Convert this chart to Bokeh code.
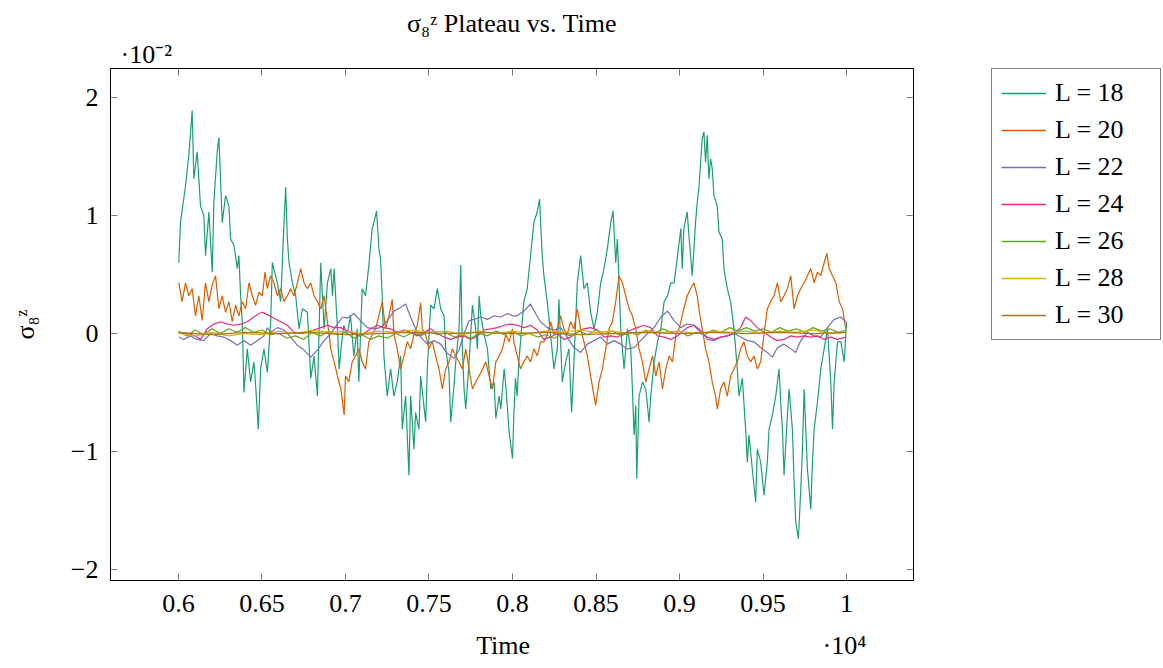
from bokeh.plotting import figure
from bokeh.layouts import row
from bokeh.models import (Range1d, FixedTicker, LinearAxis, Legend, LegendItem, Title)
from bokeh.embed import file_html
from bokeh.resources import INLINE

# ---------------- data (sigma values in units of 1e-2, time in steps) ----------------
time_L18 = [6002, 6012, 6042, 6062, 6082, 6092, 6112, 6132, 6152, 6162, 6182, 6202, 6212, 6232, 6242, 6262,
            6282, 6302, 6312, 6332, 6352, 6362, 6372, 6382, 6392, 6412, 6432, 6452, 6462, 6478, 6492, 6512,
            6532, 6552, 6562, 6592, 6612, 6632, 6642, 6652, 6662, 6682, 6702, 6722, 6742, 6772, 6792, 6812,
            6832, 6852, 6872, 6892, 6912, 6922, 6932, 6952, 6962, 6982, 6990, 7010, 7030, 7050, 7070, 7080,
            7100, 7120, 7140, 7160, 7170, 7186, 7200, 7210, 7220, 7230, 7250, 7270, 7290, 7310, 7330, 7340,
            7360, 7380, 7390, 7410, 7420, 7440, 7450, 7480, 7490, 7510, 7530, 7550, 7570, 7590, 7600, 7620,
            7630, 7650, 7660, 7680, 7690, 7700, 7710, 7720, 7740, 7760, 7780, 7790, 7800, 7810, 7830, 7850,
            7870, 7890, 7900, 7920, 7930, 7950, 7960, 7980, 8000, 8008, 8018, 8028, 8038, 8058, 8068, 8088,
            8108, 8128, 8148, 8162, 8178, 8188, 8208, 8228, 8248, 8268, 8278, 8298, 8318, 8338, 8354, 8368,
            8388, 8408, 8428, 8448, 8468, 8488, 8508, 8528, 8548, 8568, 8588, 8602, 8618, 8628, 8648, 8668,
            8688, 8708, 8718, 8728, 8738, 8744, 8758, 8778, 8798, 8818, 8828, 8848, 8868, 8888, 8908, 8928,
            8948, 8968, 8988, 9008, 9016, 9026, 9046, 9056, 9076, 9096, 9106, 9116, 9126, 9136, 9146, 9156,
            9166, 9176, 9186, 9196, 9206, 9226, 9236, 9256, 9266, 9286, 9306, 9326, 9346, 9356, 9376, 9396,
            9406, 9416, 9436, 9456, 9466, 9486, 9506, 9526, 9536, 9556, 9576, 9596, 9606, 9616, 9626, 9646,
            9656, 9676, 9686, 9696, 9712, 9726, 9736, 9746, 9766, 9786, 9796, 9806, 9826, 9846, 9866, 9886,
            9906, 9916, 9926, 9946, 9966, 9986, 10000]
sig_L18 = [0.60, 0.94, 1.25, 1.51, 1.89, 1.31, 1.54, 1.08, 1.00, 0.66, 1.03, 0.52, 1.11, 1.54, 1.66, 0.94,
           1.17, 1.08, 0.80, 0.75, 0.55, 0.66, 0.32, 0.10, -0.50, -0.13, -0.41, -0.24, -0.44, -0.81, -0.30, -0.13,
           -0.33, 0.10, 0.60, 0.43, 0.27, 0.94, 1.24, 0.80, 0.60, 0.43, 0.32, 0.04, 0.21, 0.18, -0.38, -0.19,
           -0.53, 0.60, 0.04, 0.43, 0.55, 0.32, 0.55, 0.04, -0.30, -0.01, 0.07, -0.01, 0.15, -0.19, 0.04, -0.41,
           0.38, 0.32, 0.58, 0.89, 0.94, 1.04, 0.72, 0.63, 0.32, -0.19, -0.53, -0.30, -0.53, -0.41, -0.19, -0.81,
           -0.53, -1.20, -0.53, -0.98, -0.67, -0.81, -0.36, -0.75, -0.30, 0.24, 0.21, 0.38, 0.21, 0.15, -0.13, -0.33,
           -0.75, -0.44, -0.24, 0.04, 0.58, -0.13, -0.47, -0.64, -0.24, 0.24, 0.04, -0.13, 0.32, 0.15, -0.01, -0.13,
           -0.47, -0.41, -0.72, -0.53, -0.64, -0.30, -0.44, -0.84, -1.06, -0.69, -0.38, -0.53, -0.24, 0.10, 0.27, 0.38,
           0.66, 0.94, 1.03, 1.14, 0.66, 0.49, 0.27, -0.01, -0.30, -0.13, 0.29, -0.41, -0.24, -0.13, -0.67, -0.24,
           0.43, 0.66, 0.38, 0.43, 0.18, 0.04, 0.18, 0.43, 0.55, 0.72, 0.94, 1.04, 0.60, 0.80, 0.04, -0.30,
           0.04, -0.13, -0.47, -0.86, -0.61, -1.23, -0.53, -0.41, -0.47, -0.75, -0.53, -0.24, -0.07, 0.04, 0.27, 0.32,
           0.43, 0.43, 0.66, 0.89, 0.55, 0.89, 1.03, 0.84, 0.49, 0.94, 1.11, 1.23, 1.45, 1.65, 1.71, 1.45,
           1.68, 1.31, 1.48, 1.40, 1.17, 1.08, 0.86, 0.80, 0.55, 0.38, 0.27, 0.04, -0.30, -0.53, -0.38, -0.81,
           -1.09, -0.86, -1.15, -1.43, -0.98, -1.09, -1.37, -1.09, -0.81, -0.69, -0.53, -0.30, -0.58, -0.81, -1.20, -0.69,
           -0.47, -0.81, -1.26, -1.60, -1.74, -1.32, -0.98, -0.47, -1.15, -1.49, -1.09, -0.81, -0.58, -0.30, -0.13, 0.04,
           -0.41, -0.81, -0.41, -0.07, -0.07, -0.24, 0.10]

time_L20 = [6002, 6022, 6042, 6062, 6082, 6102, 6122, 6142, 6162, 6182, 6202, 6222, 6242, 6262, 6282, 6302,
            6322, 6342, 6362, 6382, 6402, 6422, 6442, 6462, 6482, 6502, 6518, 6532, 6552, 6572, 6592, 6612,
            6632, 6652, 6672, 6692, 6712, 6732, 6752, 6772, 6792, 6812, 6832, 6852, 6872, 6892, 6912, 6932,
            6952, 6972, 6992, 7000, 7020, 7040, 7060, 7080, 7100, 7120, 7140, 7160, 7180, 7200, 7220, 7240,
            7260, 7280, 7290, 7310, 7330, 7350, 7370, 7390, 7410, 7430, 7450, 7460, 7480, 7500, 7520, 7540,
            7560, 7580, 7600, 7620, 7640, 7660, 7680, 7700, 7720, 7740, 7760, 7780, 7800, 7820, 7840, 7860,
            7880, 7900, 7920, 7940, 7960, 7980, 8000, 8008, 8028, 8048, 8068, 8088, 8108, 8128, 8148, 8168,
            8188, 8208, 8228, 8248, 8268, 8288, 8308, 8328, 8348, 8368, 8388, 8408, 8428, 8448, 8468, 8488,
            8498, 8518, 8538, 8558, 8578, 8598, 8618, 8638, 8658, 8678, 8698, 8718, 8738, 8758, 8778, 8798,
            8818, 8838, 8858, 8878, 8898, 8918, 8938, 8958, 8978, 8998, 9026, 9046, 9066, 9086, 9106, 9116,
            9136, 9156, 9176, 9196, 9216, 9226, 9246, 9266, 9286, 9306, 9326, 9346, 9366, 9386, 9406, 9426,
            9446, 9466, 9486, 9506, 9526, 9546, 9566, 9586, 9606, 9626, 9646, 9666, 9686, 9706, 9726, 9746,
            9766, 9786, 9806, 9826, 9846, 9866, 9882, 9896, 9916, 9936, 9956, 9976, 9996]
sig_L20 = [0.43, 0.27, 0.43, 0.32, 0.38, 0.15, 0.32, 0.11, 0.43, 0.27, 0.41, 0.49, 0.21, 0.32, 0.18, 0.27,
           0.10, 0.24, 0.15, 0.27, 0.21, 0.43, 0.32, 0.24, 0.35, 0.32, 0.52, 0.38, 0.49, 0.43, 0.32, 0.38,
           0.27, 0.32, 0.38, 0.32, 0.43, 0.55, 0.43, 0.38, 0.43, 0.32, 0.27, 0.21, 0.32, 0.10, -0.13, -0.24,
           -0.36, -0.47, -0.69, -0.36, -0.41, -0.24, -0.19, -0.13, -0.24, -0.30, -0.07, -0.01, 0.04, 0.15, 0.27, 0.04,
           0.15, 0.29, -0.01, -0.13, -0.30, -0.19, -0.07, -0.13, -0.01, 0.07, 0.26, 0.04, -0.01, -0.13, -0.07, -0.19,
           -0.30, -0.47, -0.30, -0.24, -0.13, -0.19, -0.24, -0.30, -0.13, -0.30, -0.47, -0.41, -0.36, -0.30, -0.24, -0.36,
           -0.47, -0.24, -0.19, -0.13, -0.01, -0.07, 0.04, -0.07, -0.19, -0.30, -0.24, -0.19, -0.24, -0.13, -0.19, -0.07,
           -0.07, -0.01, 0.10, -0.01, 0.04, 0.15, 0.04, -0.01, 0.10, 0.04, 0.21, 0.04, -0.07, -0.19, -0.36, -0.53,
           -0.61, -0.41, -0.30, -0.13, 0.04, 0.10, 0.27, 0.49, 0.43, 0.32, 0.21, 0.15, 0.04, -0.13, -0.24, -0.41,
           -0.30, -0.19, -0.36, -0.24, -0.47, -0.30, -0.19, -0.24, -0.01, 0.04, 0.21, 0.32, 0.38, 0.43, 0.32, 0.21,
           0.04, -0.13, -0.24, -0.41, -0.53, -0.64, -0.47, -0.41, -0.53, -0.36, -0.30, -0.24, -0.13, -0.07, -0.19, -0.24,
           -0.19, -0.30, -0.24, -0.01, 0.21, 0.27, 0.32, 0.43, 0.27, 0.32, 0.38, 0.49, 0.21, 0.32, 0.38, 0.43,
           0.49, 0.55, 0.43, 0.52, 0.49, 0.60, 0.68, 0.55, 0.49, 0.43, 0.27, 0.21, 0.04]

time_L22 = [6002, 6032, 6072, 6112, 6152, 6192, 6232, 6272, 6312, 6352, 6392, 6432, 6472, 6512, 6532, 6552,
            6592, 6632, 6672, 6712, 6752, 6792, 6832, 6872, 6912, 6952, 6982, 7010, 7050, 7090, 7130, 7170,
            7210, 7250, 7290, 7330, 7360, 7390, 7420, 7450, 7490, 7530, 7570, 7610, 7650, 7680, 7710, 7740,
            7770, 7810, 7850, 7890, 7930, 7970, 8000, 8028, 8068, 8108, 8138, 8168, 8208, 8248, 8288, 8328,
            8368, 8408, 8448, 8488, 8528, 8568, 8608, 8648, 8688, 8728, 8768, 8808, 8848, 8888, 8928, 8968,
            9008, 9046, 9086, 9126, 9166, 9206, 9246, 9286, 9326, 9366, 9406, 9446, 9486, 9526, 9556, 9586,
            9626, 9666, 9696, 9726, 9766, 9806, 9846, 9886, 9926, 9966, 9996]
sig_L22 = [-0.03, -0.05, -0.02, -0.05, -0.06, 0.00, -0.02, -0.03, -0.06, -0.10, -0.06, -0.10, -0.06, -0.02, 0.05, 0.01,
           0.05, 0.03, -0.03, -0.10, -0.14, -0.20, -0.14, -0.06, 0.00, 0.08, 0.14, 0.13, 0.17, 0.11, 0.05, 0.04,
           0.05, 0.11, 0.19, 0.22, 0.25, 0.14, 0.04, -0.03, -0.09, -0.06, -0.09, -0.17, -0.21, -0.14, 0.00, 0.11,
           0.12, 0.14, 0.12, 0.15, 0.14, 0.17, 0.15, 0.15, 0.19, 0.25, 0.17, 0.10, 0.05, 0.03, 0.05, -0.03,
           -0.12, -0.16, -0.09, -0.06, -0.03, -0.09, -0.06, -0.09, -0.13, -0.12, -0.06, 0.00, 0.05, 0.14, 0.19, 0.11,
           0.05, 0.08, 0.07, 0.03, -0.05, -0.06, -0.03, -0.02, 0.00, -0.03, -0.06, -0.07, -0.12, -0.16, -0.20, -0.12,
           -0.09, -0.13, -0.16, -0.06, 0.01, -0.02, -0.03, 0.05, 0.12, 0.14, 0.10]

time_L24 = [6002, 6052, 6102, 6132, 6172, 6212, 6252, 6292, 6332, 6372, 6412, 6452, 6482, 6502, 6532, 6572,
            6612, 6652, 6692, 6732, 6772, 6812, 6852, 6892, 6932, 6972, 7030, 7090, 7150, 7190, 7230, 7270,
            7310, 7350, 7390, 7430, 7470, 7510, 7550, 7590, 7630, 7670, 7710, 7750, 7790, 7830, 7870, 7910,
            7950, 7990, 8028, 8068, 8108, 8148, 8188, 8228, 8268, 8308, 8348, 8388, 8428, 8468, 8508, 8548,
            8588, 8628, 8668, 8708, 8748, 8788, 8828, 8868, 8908, 8948, 8988, 9046, 9086, 9126, 9166, 9206,
            9246, 9286, 9326, 9366, 9396, 9426, 9466, 9506, 9546, 9586, 9626, 9666, 9706, 9746, 9786, 9826,
            9866, 9906, 9946, 9996]
sig_L24 = [0.01, 0.00, -0.02, -0.05, 0.04, 0.08, 0.10, 0.08, 0.07, 0.08, 0.10, 0.14, 0.17, 0.18, 0.16, 0.13,
           0.10, 0.07, 0.01, 0.00, 0.01, 0.03, 0.05, 0.07, 0.05, 0.05, 0.01, -0.02, 0.04, 0.07, 0.05, 0.04,
           0.01, 0.03, 0.01, -0.02, 0.01, 0.04, 0.00, -0.03, -0.05, -0.03, -0.02, -0.05, -0.02, 0.03, 0.04, 0.05,
           0.07, 0.08, 0.07, 0.05, 0.07, 0.03, -0.05, -0.03, 0.00, -0.05, -0.03, 0.01, 0.04, 0.05, 0.03, -0.03,
           -0.02, -0.03, 0.00, 0.03, 0.05, 0.07, 0.05, -0.02, -0.03, -0.05, -0.02, 0.05, 0.07, 0.01, -0.03, -0.05,
           -0.03, -0.02, 0.00, 0.05, 0.14, 0.11, 0.05, 0.01, -0.03, -0.06, -0.05, -0.02, -0.03, -0.02, -0.03, -0.02,
           -0.05, -0.03, -0.05, -0.03]

time_L26 = [6000, 6050, 6100, 6150, 6200, 6250, 6300, 6350, 6400, 6450, 6500, 6550, 6600, 6650, 6700, 6750,
            6800, 6850, 6900, 6950, 7000, 7050, 7100, 7150, 7200, 7250, 7300, 7350, 7400, 7450, 7500, 7550,
            7600, 7650, 7700, 7750, 7800, 7850, 7900, 7950, 8000, 8050, 8100, 8150, 8200, 8250, 8300, 8350,
            8400, 8450, 8500, 8550, 8600, 8650, 8700, 8750, 8800, 8850, 8900, 8950, 9000, 9050, 9100, 9150,
            9200, 9250, 9300, 9350, 9400, 9450, 9500, 9550, 9600, 9650, 9700, 9750, 9800, 9850, 9900, 9950, 10000]
sig_L26 = [0.02, -0.02, 0.03, -0.01, 0.04, 0.00, 0.04, 0.01, 0.05, 0.01, 0.03, -0.01, 0.00, -0.04, -0.02, -0.05,
           0.01, -0.02, 0.02, -0.01, 0.01, -0.04, -0.01, -0.05, -0.02, -0.04, 0.00, -0.03, 0.01, -0.02, 0.02, -0.01,
           0.01, -0.03, -0.01, -0.04, 0.00, -0.02, 0.02, -0.01, 0.02, -0.02, 0.00, -0.03, -0.01, -0.04, 0.00, -0.02,
           0.02, -0.01, 0.03, 0.00, 0.02, -0.02, 0.01, -0.01, 0.03, 0.00, 0.04, 0.01, 0.02, -0.02, 0.01, -0.01,
           0.03, 0.01, 0.05, 0.02, 0.05, 0.02, 0.04, 0.01, 0.05, 0.02, 0.04, 0.01, 0.05, 0.02, 0.04, 0.01, 0.03]

time_L28 = [6000, 6100, 6200, 6300, 6400, 6500, 6600, 6700, 6800, 6900, 7000, 7100, 7200, 7300, 7400, 7500,
            7600, 7700, 7800, 7900, 8000, 8100, 8200, 8300, 8400, 8500, 8600, 8700, 8800, 8900, 9000, 9100,
            9200, 9300, 9400, 9500, 9600, 9700, 9800, 9900, 10000]
sig_L28 = [0.00, -0.02, 0.01, -0.02, 0.00, -0.01, 0.02, 0.00, 0.03, 0.01, 0.02, 0.00, 0.02, 0.01, 0.03, 0.01,
           0.02, -0.01, 0.02, 0.00, 0.02, 0.00, 0.02, 0.01, 0.03, 0.01, 0.02, 0.00, 0.02, 0.01, 0.02, 0.00,
           0.02, 0.01, 0.02, 0.00, 0.02, 0.01, 0.03, 0.00, 0.01]

time_L30 = [6000, 6200, 6400, 6600, 6800, 7000, 7200, 7400, 7600, 7800, 8000, 8200, 8400, 8600, 8800, 9000,
            9200, 9400, 9600, 9800, 10000]
sig_L30 = [0.01, -0.01, 0.01, 0.00, 0.01, -0.01, 0.00, 0.01, 0.00, 0.01, 0.00, 0.01, -0.01, 0.00, 0.01, 0.00,
           0.01, 0.00, 0.01, 0.00, 0.01]

series_labels = ["L = 18", "L = 20", "L = 22", "L = 24", "L = 26", "L = 28", "L = 30"]
series_colors = ["#1b9e77", "#d95f02", "#7570b3", "#e7298a", "#66a61e", "#e6ab02", "#a6761d"]

x_ticks = [6000, 6500, 7000, 7500, 8000, 8500, 9000, 9500, 10000]
x_tick_labels = ["0.6", "0.65", "0.7", "0.75", "0.8", "0.85", "0.9", "0.95", "1"]
y_ticks = [-2, -1, 0, 1, 2]
y_tick_labels = ["\u22122", "\u22121", "0", "1", "2"]

title_text = "\u03c3\u2088\u1dbb Plateau vs. Time"
y_label_text = "\u03c3\u2088\u1dbb"
x_label_text = "Time"
y_scale_text = "\u00b710\u207b\u00b2"
x_scale_text = "\u00b710\u2074"

# ---------------- main figure ----------------
FONT = "Liberation Serif"
FS = "26px"
NB = "\u00a0"

p = figure(frame_width=803, frame_height=512, output_backend="svg", toolbar_location=None,
           x_range=Range1d(5593, 10401), y_range=Range1d(-2.093, 2.246),
           min_border_left=110, min_border_right=77, min_border_top=68, min_border_bottom=84)
p.background_fill_color = "white"
p.border_fill_color = "white"
p.outline_line_color = "black"
p.outline_line_width = 1
p.xgrid.visible = False
p.ygrid.visible = False

p.title.text = title_text
p.title.align = "center"
p.title.text_font = FONT
p.title.text_font_size = FS
p.title.text_font_style = "normal"
p.title.text_color = "black"
p.title.standoff = 0

def style_axis(ax, ticks, labels, show_labels=True):
    ax.ticker = FixedTicker(ticks=ticks)
    ax.major_label_overrides = {t: (l if show_labels else "") for t, l in zip(ticks, labels)}
    ax.major_tick_in = 7
    ax.major_tick_out = 0
    ax.minor_tick_in = 0
    ax.minor_tick_out = 0
    ax.axis_line_color = "black"
    ax.major_tick_line_color = "#777777"
    ax.major_label_text_font = FONT
    ax.major_label_text_font_size = FS
    ax.major_label_text_color = "black"
    ax.axis_label_text_font = FONT
    ax.axis_label_text_font_size = FS
    ax.axis_label_text_font_style = "normal"
    ax.axis_label_text_color = "black"

xa = p.xaxis[0]
style_axis(xa, x_ticks, x_tick_labels)
# axis title "Time" centred, with the x scale factor at the right end of the same line
xa.axis_label = NB * 49 + x_label_text + NB * 45 + x_scale_text
xa.major_label_standoff = 14
xa.axis_label_standoff = 16

ya = p.yaxis[0]
style_axis(ya, y_ticks, y_tick_labels)
ya.axis_label = y_label_text
ya.major_label_standoff = 12
ya.axis_label_standoff = 28

top = LinearAxis()
style_axis(top, x_ticks, x_tick_labels, show_labels=False)
top.major_label_standoff = 0
p.add_layout(top, "above")
right = LinearAxis()
style_axis(right, y_ticks, y_tick_labels, show_labels=False)
right.major_label_standoff = 0
p.add_layout(right, "right")

p.add_layout(Title(text=y_scale_text, align="left", offset=10, standoff=0,
                   text_font=FONT, text_font_size=FS, text_font_style="normal",
                   text_color="black"), "above")

times = [time_L18, time_L20, time_L22, time_L24, time_L26, time_L28, time_L30]
sigs = [sig_L18, sig_L20, sig_L22, sig_L24, sig_L26, sig_L28, sig_L30]
for t, s, col in zip(times, sigs, series_colors):
    p.line(t, s, line_color=col, line_width=1.2)

# ---------------- legend panel (a separate small figure to the right) ----------------
# its frame is aligned with the main frame by the row layout; the series lie outside
# its ranges, so only the legend keys are visible there
pl = figure(width=173, height=664, output_backend="svg", toolbar_location=None,
            x_axis_type=None, y_axis_type=None, title=None,
            x_range=Range1d(0, 1), y_range=Range1d(10, 11),
            min_border_left=0, min_border_right=0, min_border_top=0, min_border_bottom=0)
pl.outline_line_color = None
pl.xgrid.visible = False
pl.ygrid.visible = False
items = []
for t, s, lab, col in zip(times, sigs, series_labels, series_colors):
    r = pl.line(t, s, line_color=col, line_width=1.5)
    items.append(LegendItem(label=lab, renderers=[r]))

legend = Legend(items=items, location=(1, 240))
legend.label_text_font = FONT
legend.label_text_font_size = FS
legend.label_text_color = "black"
legend.border_line_color = "black"
legend.border_line_width = 1
legend.background_fill_alpha = 1.0
legend.glyph_width = 45
legend.glyph_height = 30
legend.label_height = 30
legend.label_width = 96
legend.label_standoff = 9
legend.spacing = 7
legend.padding = 9
legend.margin = 0
pl.add_layout(legend, "center")

open("out.html", "w").write(file_html(row(p, pl), INLINE))
